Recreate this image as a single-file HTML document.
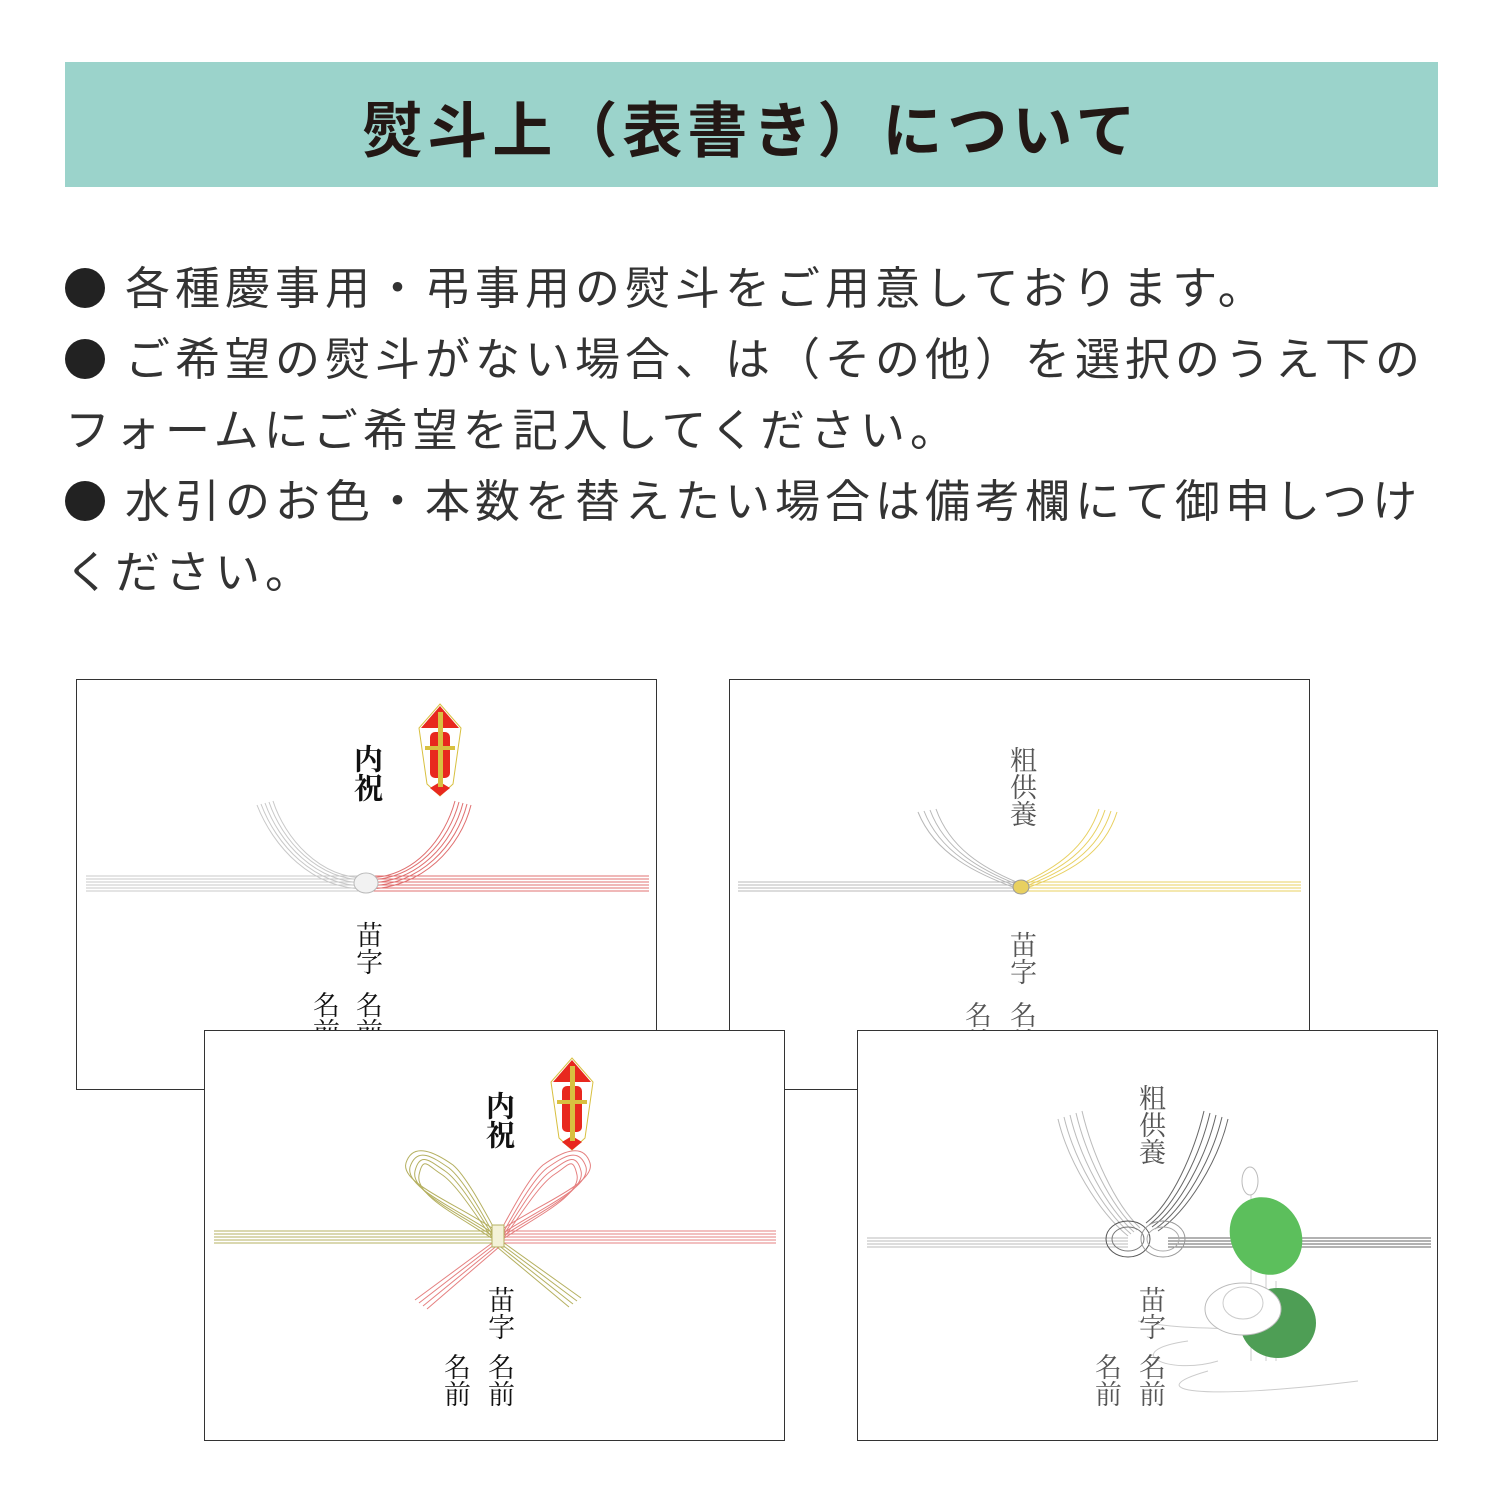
<!DOCTYPE html>
<html><head><meta charset="utf-8">
<style>
body{margin:0;width:1500px;height:1500px;background:#fff;position:relative;overflow:hidden;font-family:"Liberation Sans","Noto Sans CJK JP",sans-serif;}
.hdr{position:absolute;left:65px;top:62px;width:1373px;height:125px;background:#9bd3cb;}
.hdr div{text-align:center;line-height:140px;font-size:60px;font-weight:bold;letter-spacing:5px;color:#231815;}
.body{position:absolute;left:65px;top:253px;width:1430px;font-size:45px;letter-spacing:5px;color:#333;}
.body div{height:71px;line-height:71px;white-space:nowrap;}
.dot{display:inline-block;width:40px;height:40px;border-radius:50%;background:#222;vertical-align:-4px;margin-right:20px;}
.card{position:absolute;width:579px;height:409px;border:1px solid #333;background:#fff;overflow:hidden;}
.card svg{position:absolute;left:0;top:0;}
.v{position:absolute;writing-mode:vertical-rl;font-family:"Liberation Serif","Noto Serif CJK JP",serif;font-size:27px;line-height:28px;width:28px;color:#111;}
.b{font-weight:bold;font-size:29px;}
.g{color:#555;}
</style></head><body>
<div class="hdr"><div>熨斗上（表書き）について</div></div>
<div class="body">
<div><span class="dot"></span>各種慶事用・弔事用の熨斗をご用意しております。</div>
<div><span class="dot"></span>ご希望の熨斗がない場合、は（その他）を選択のうえ下の</div>
<div>フォームにご希望を記入してください。</div>
<div><span class="dot"></span>水引のお色・本数を替えたい場合は備考欄にて御申しつけ</div>
<div>ください。</div>
</div>

<!-- card1 -->
<div class="card" style="left:76px;top:679px;">
<svg width="579" height="409">
<defs><g id="noshi"><polygon points="21,0 42,24 34,80 21,92 8,80 0,24" fill="#fff" stroke="#d8c040" stroke-width="1"/><polygon points="21,2 40,24 2,24" fill="#e8281e"/><rect x="11" y="28" width="20" height="46" rx="5" fill="#e8281e"/><polygon points="21,78 31,84 21,92 11,84" fill="#e8281e"/><rect x="19" y="8" width="5" height="75" fill="#d8c040"/><rect x="6" y="42" width="30" height="4" fill="#d8c040"/></g></defs>
<g fill="none" stroke-width="1">
<g stroke="#c8c8c8"><path d="M9 196H289M9 199H289M9 202H289M9 205H289M9 208H289M9 211H289"/>
<path d="M289 200C240 200 205 160 192 122M289 203C238 203 202 162 188 123M289 206C236 206 199 164 184 124M289 209C234 209 196 166 180 125M289 198C242 198 208 158 196 121"/></g>
<g stroke="#e07070"><path d="M289 196H572M289 199H572M289 202H572M289 205H572M289 208H572M289 211H572"/>
<path d="M289 200C340 200 372 160 382 122M289 203C342 203 376 162 386 123M289 206C344 206 380 164 390 124M289 209C346 209 384 166 394 125M289 198C338 198 368 158 378 121"/></g>
</g>
<ellipse cx="289" cy="203" rx="12" ry="10" fill="#f2f2f2" stroke="#bbb"/>
<use href="#noshi" x="342" y="24"/>
</svg>
<div class="v b" style="left:275px;top:64px;">内祝</div>
<div class="v" style="left:276px;top:241px;">苗字</div>
<div class="v" style="left:276px;top:311px;">名前</div>
<div class="v" style="left:233px;top:311px;">名前</div>
</div>

<!-- card2 -->
<div class="card" style="left:729px;top:679px;">
<svg width="579" height="409">
<g fill="none" stroke-width="1">
<g stroke="#b8b8b8"><path d="M8 202H291M8 205H291M8 208H291M8 211H291"/>
<path d="M291 206C250 190 215 170 200 130M291 208C248 192 210 172 194 131M291 204C252 188 220 168 206 129M291 210C246 194 205 174 188 132"/></g>
<g stroke="#e8d060"><path d="M291 202H571M291 205H571M291 208H571M291 211H571"/>
<path d="M291 206C330 190 362 170 375 130M291 208C334 192 368 172 381 131M291 204C326 188 356 168 369 129M291 210C338 194 374 174 387 132"/></g>
</g>
<ellipse cx="291" cy="207" rx="8" ry="7" fill="#e8d060" stroke="#999"/>
</svg>
<div class="v g" style="left:277px;top:66px;">粗供養</div>
<div class="v g" style="left:277px;top:251px;">苗字</div>
<div class="v g" style="left:277px;top:321px;">名前</div>
<div class="v g" style="left:232px;top:321px;">名前</div>
</div>

<!-- card3 -->
<div class="card" style="left:204px;top:1030px;">
<svg width="579" height="409">
<defs><g id="noshi2"><polygon points="21,0 42,24 34,80 21,92 8,80 0,24" fill="#fff" stroke="#d8c040" stroke-width="1"/><polygon points="21,2 40,24 2,24" fill="#e8281e"/><rect x="11" y="28" width="20" height="46" rx="5" fill="#e8281e"/><polygon points="21,78 31,84 21,92 11,84" fill="#e8281e"/><rect x="19" y="8" width="5" height="75" fill="#d8c040"/><rect x="6" y="42" width="30" height="4" fill="#d8c040"/></g></defs>
<g fill="none" stroke-width="1">
<g stroke="#b5b060"><path d="M9 200H290M9 203H290M9 206H290M9 209H290M9 212H290"/>
<path d="M288 205C250 180 205 160 210 140C215 120 225 130 240 140C255 150 275 185 288 205"/>
<path d="M288 202C248 176 200 156 205 136C212 115 228 126 244 137C258 148 277 182 288 202"/>
<path d="M288 208C252 184 210 164 214 144C218 125 222 134 236 143C252 153 273 188 288 208"/>
<path d="M290 199C250 172 195 152 201 132C208 110 231 122 248 134C261 145 279 179 290 199"/>
<path d="M292 210L372 270M292 213L368 273M292 216L364 276M292 207L376 267"/></g>
<g stroke="#e58080"><path d="M298 200H571M298 203H571M298 206H571M298 209H571M298 212H571"/>
<path d="M298 205C336 180 381 160 376 140C371 120 361 130 346 140C331 150 311 185 298 205"/>
<path d="M298 202C338 176 386 156 381 136C374 115 358 126 342 137C328 148 309 182 298 202"/>
<path d="M298 208C334 184 376 164 372 144C368 125 364 134 350 143C334 153 313 188 298 208"/>
<path d="M296 199C336 172 391 152 385 132C378 110 355 122 338 134C325 145 307 179 296 199"/>
<path d="M294 210L214 272M294 213L218 275M294 216L222 278M294 207L210 269"/></g>
</g>
<rect x="287" y="194" width="12" height="22" fill="#f4f2d8" stroke="#b5b060"/>
<use href="#noshi2" x="346" y="27"/>
</svg>
<div class="v b" style="left:279px;top:60px;">内祝</div>
<div class="v" style="left:280px;top:255px;">苗字</div>
<div class="v" style="left:280px;top:322px;">名前</div>
<div class="v" style="left:236px;top:322px;">名前</div>
</div>

<!-- card4 -->
<div class="card" style="left:857px;top:1030px;">
<svg width="579" height="409">
<g fill="none" stroke-width="1">
<g stroke="#bbb"><path d="M9 207H270M9 210H270M9 213H270M9 216H270"/>
<path d="M270 205C240 180 210 130 200 88M273 203C244 178 216 128 206 86M276 201C248 176 222 126 212 84M279 199C252 174 228 124 218 82M282 197C256 172 234 122 224 80"/></g>
<g stroke="#666"><path d="M310 207H573M310 210H573M310 213H573M310 216H573"/>
<path d="M300 200C330 180 360 130 370 88M297 198C326 178 354 128 364 86M294 196C322 176 348 126 358 84M291 194C318 174 342 124 352 82M288 192C314 172 336 122 346 80"/></g>
<ellipse cx="270" cy="208" rx="22" ry="18" stroke="#555"/><ellipse cx="270" cy="208" rx="16" ry="12" stroke="#777"/>
<ellipse cx="305" cy="208" rx="22" ry="18" stroke="#999"/><ellipse cx="305" cy="208" rx="16" ry="12" stroke="#aaa"/>
<g stroke="#ccc"><path d="M280 290C330 300 360 295 400 300M330 310C260 320 310 345 360 330M350 340C280 360 340 370 500 350"/>
<path d="M393 150V330M408 220V330M418 250V330"/></g>
</g>
<ellipse cx="392" cy="150" rx="8" ry="14" fill="#fff" stroke="#bbb"/>
<ellipse cx="408" cy="205" rx="35" ry="40" fill="#5cbf5c" transform="rotate(-30 408 205)"/>
<ellipse cx="420" cy="292" rx="38" ry="35" fill="#4e9e55"/>
<ellipse cx="385" cy="278" rx="38" ry="26" fill="#fff" stroke="#bbb"/>
<ellipse cx="385" cy="272" rx="20" ry="16" fill="#fff" stroke="#ccc"/>
</svg>
<div class="v g" style="left:278px;top:53px;">粗供養</div>
<div class="v g" style="left:278px;top:255px;">苗字</div>
<div class="v g" style="left:278px;top:322px;">名前</div>
<div class="v g" style="left:234px;top:322px;">名前</div>
</div>
</body></html>
